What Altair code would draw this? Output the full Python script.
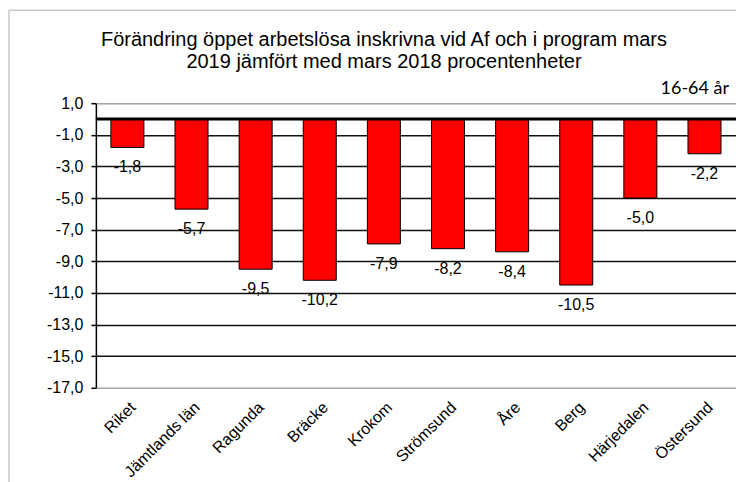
import altair as alt
import pandas as pd

categories = ["Riket", "Jämtlands län", "Ragunda", "Bräcke", "Krokom",
              "Strömsund", "Åre", "Berg", "Härjedalen", "Östersund"]
values = [-1.8, -5.7, -9.5, -10.2, -7.9, -8.2, -8.4, -10.5, -5.0, -2.2]
y_ticks = [1, -1, -3, -5, -7, -9, -11, -13, -15, -17]
title_lines = ["Förändring öppet arbetslösa inskrivna vid Af och i program mars",
               "2019 jämfört med mars 2018 procentenheter"]
age_note = ["16-64 år"]

df = pd.DataFrame({"kategori": categories, "varde": values})
df["etikett"] = [f"{v:.1f}".replace(".", ",") for v in values]

W, H = 641, 285
FONT = "Liberation Sans"

x_enc = alt.X(
    "kategori:N", sort=categories,
    scale=alt.Scale(paddingInner=0.485, paddingOuter=0.234),
    axis=alt.Axis(title=None, labelAngle=-45, labelAlign="right", labelBaseline="top",
                  labelFont=FONT, labelFontSize=16, labelColor="black",
                  ticks=False, domain=False, labelPadding=11, labelOverlap=False),
)
y_scale = alt.Scale(domain=[-17, 1], nice=False, zero=False)
y_axis = alt.Axis(
    title=None, values=y_ticks,
    labelExpr="replace(replace(format(datum.value, '.1f'), '.', ','), '\u2212', '-')",
    grid=True,
    gridColor={"condition": {"test": "datum.value === 1 || datum.value === -17", "value": "#a6a6a6"},
               "value": "#111111"},
    gridWidth=1.5, domainColor="black", domainWidth=1.5,
    tickColor="black", tickSize=5, tickWidth=1.5,
    labelFont=FONT, labelFontSize=16, labelColor="black", labelPadding=8)

bars = alt.Chart(df).mark_bar(color="#ff0000", stroke="black", strokeWidth=1).encode(
    x=x_enc,
    y=alt.Y("varde:Q", scale=y_scale, axis=y_axis),
    y2=alt.datum(0),
)

labels = alt.Chart(df).mark_text(baseline="middle", dy=20, font=FONT, fontSize=16, color="black").encode(
    x=x_enc,
    y=alt.Y("varde:Q", scale=y_scale, axis=y_axis),
    text="etikett:N",
)

zero_line = alt.Chart(pd.DataFrame({"noll": [0]})).mark_rule(color="black", strokeWidth=3).encode(
    y=alt.Y("noll:Q", scale=y_scale, axis=y_axis)
)

note_df = pd.DataFrame({"t": age_note})
note = alt.Chart(note_df).mark_text(align="right", baseline="alphabetic", font="Lato",
                                    fontSize=18, color="black").encode(
    x=alt.value(634), y=alt.value(-9), text="t:N"
)

border_top = alt.Chart(note_df).mark_rule(color="#c8c8c8", strokeWidth=1.5).encode(
    x=alt.value(-87), x2=alt.value(700), y=alt.value(-93)
)
border_left = alt.Chart(note_df).mark_rule(color="#c8c8c8", strokeWidth=1.5).encode(
    x=alt.value(-87), y=alt.value(-93), y2=alt.value(400)
)

chart = alt.layer(border_top, border_left, bars, zero_line, labels, note).properties(
    width=W, height=H,
    title=alt.TitleParams(text=title_lines, font=FONT, fontSize=20, fontWeight="normal",
                          color="black", anchor="middle", dx=-32, offset=-63,
                          frame="group", lineHeight=23),
    autosize=alt.AutoSizeParams(type="none"),
    padding={"left": 88, "top": 95, "right": 0, "bottom": 94},
).configure_view(stroke="#a6a6a6", strokeWidth=1.5).configure(background="white")

chart.save("out.html", embed_options={"renderer": "svg", "actions": False})
